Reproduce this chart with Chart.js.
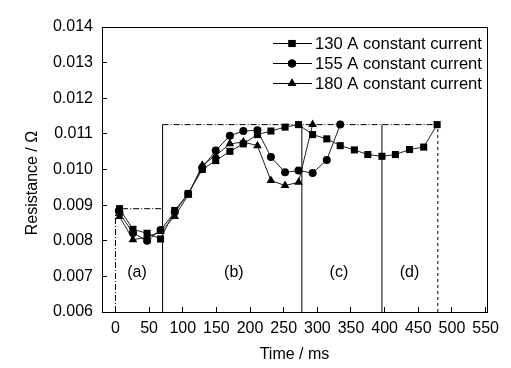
<!DOCTYPE html>
<html>
<head>
<meta charset="utf-8">
<script src="https://cdn.jsdelivr.net/npm/chart.js@4.4.0/dist/chart.umd.min.js"></script>
<style>
  html, body { margin: 0; padding: 0; background: #fff; }
  #chart { display: block; }
</style>
</head>
<body>
<canvas id="chart" width="511" height="368"></canvas>
<script>
// Resistance vs time at three constant currents
const times = [6, 26, 47, 67, 88, 108, 129, 149, 170, 190, 211, 231, 252, 272, 293, 314, 334, 355, 375, 396, 416, 437, 458, 478];
const r130 = [0.0089, 0.00832, 0.00821, 0.00805, 0.00885, 0.00932, 0.0100, 0.01025, 0.01051, 0.01072, 0.01098, 0.01108,
              0.01119, 0.01126, 0.01098, 0.01086, 0.01067, 0.01055, 0.01042, 0.01037, 0.01042, 0.01056, 0.01063, 0.01126];
const r155 = [0.00878, 0.00822, 0.0080, 0.0083, 0.0088, 0.00932, 0.01005, 0.01053, 0.01095, 0.01108, 0.0111, 0.01035,
              0.00992, 0.00997, 0.0099, 0.01027, 0.01126];
const r180 = [0.00868, 0.00803, 0.0081, 0.00826, 0.00868, 0.00928, 0.01012, 0.01039, 0.01072, 0.01077, 0.01067, 0.00969,
              0.00955, 0.00964, 0.01126];
const seriesLabels = ['130 A constant current', '155 A constant current', '180 A constant current'];
const seriesMarkers = ['rect', 'circle', 'triangle'];

const xTicks = [0, 50, 100, 150, 200, 250, 300, 350, 400, 450, 500, 550];
const yTicks = [0.006, 0.007, 0.008, 0.009, 0.010, 0.011, 0.012, 0.013, 0.014];

// stage boundaries (ms) and levels (ohm)
const stageEdges = [0, 70, 277, 396, 479];
const stageLevels = [0.0089, 0.01126];
const stageNames = ['(a)', '(b)', '(c)', '(d)'];
const stageLabelX = [32, 176, 332, 437];
const stageLabelY = 0.00711;

const FONT = 'Arial, "Liberation Sans", sans-serif';
const yMin = yTicks[0];

function toPoints(values) {
  return values.map((v, i) => ({ x: times[i], y: v }));
}

function refLine(points, dash) {
  return {
    data: points,
    borderColor: '#000',
    borderWidth: 1,
    borderDash: dash,
    pointRadius: 0,
    fill: false,
    tension: 0,
    isRef: true
  };
}

const seriesData = [r130, r155, r180];
const datasets = seriesData.map((vals, i) => ({
  label: seriesLabels[i],
  data: toPoints(vals),
  borderColor: '#222',
  borderWidth: 1,
  pointStyle: seriesMarkers[i],
  pointRadius: seriesMarkers[i] === 'circle' ? 4 : 5,
  pointBackgroundColor: '#000',
  pointBorderColor: '#000',
  pointBorderWidth: 0,
  tension: 0,
  fill: false
}));

const dashDot = [6, 2, 1, 2];
// stage (a) box
datasets.push(refLine([
  { x: stageEdges[0], y: yMin },
  { x: stageEdges[0], y: stageLevels[0] },
  { x: stageEdges[1], y: stageLevels[0] }
], dashDot));
// top dash-dot line of stages (b)-(d)
datasets.push(refLine([
  { x: stageEdges[1], y: stageLevels[1] },
  { x: stageEdges[4], y: stageLevels[1] }
], dashDot));
// solid boundaries
[stageEdges[1], stageEdges[2], stageEdges[3]].forEach(t => {
  datasets.push(refLine([{ x: t, y: yMin }, { x: t, y: stageLevels[1] }], []));
});
// dashed end boundary
datasets.push(refLine([{ x: stageEdges[4], y: yMin }, { x: stageEdges[4], y: stageLevels[1] }], [3, 3]));

const framePlugin = {
  id: 'frame',
  afterDraw(chart) {
    const { ctx, chartArea: a, scales } = chart;
    ctx.save();
    ctx.strokeStyle = '#000';
    ctx.lineWidth = 1;
    ctx.strokeRect(Math.round(a.left) + 0.5, Math.round(a.top) + 0.5,
                   Math.round(a.right - a.left), Math.round(a.bottom - a.top));

    // stage labels
    ctx.fillStyle = '#000';
    ctx.font = '16px ' + FONT;
    ctx.textAlign = 'center';
    ctx.textBaseline = 'middle';
    stageNames.forEach((name, i) => {
      ctx.fillText(name, scales.x.getPixelForValue(stageLabelX[i]), scales.y.getPixelForValue(stageLabelY));
    });

    // axis titles
    ctx.fillText('Time / ms', (a.left + a.right) / 2, 355);
    ctx.save();
    ctx.translate(33, 183);
    ctx.rotate(-Math.PI / 2);
    ctx.fillText('Resistance / \u03A9', 0, 0);
    ctx.restore();

    // legend: line with marker
    ctx.font = '16.6px ' + FONT;
    chart.data.datasets.forEach((ds, i) => {
      if (ds.isRef) return;
      const y = 43 + i * 20;
      ctx.beginPath();
      ctx.strokeStyle = '#000';
      ctx.moveTo(273, y + 0.5);
      ctx.lineTo(312, y + 0.5);
      ctx.stroke();
      ctx.fillStyle = '#000';
      Chart.helpers.drawPoint(ctx, { pointStyle: ds.pointStyle, radius: ds.pointRadius, rotation: 0, borderWidth: 0 }, 292, y + 0.5);
      ctx.fill();
      ctx.textAlign = 'left';
      ctx.fillText(ds.label, 315, y + 1);
    });
    ctx.restore();
  }
};

new Chart(document.getElementById('chart').getContext('2d'), {
  type: 'line',
  data: { datasets: datasets },
  options: {
    responsive: false,
    animation: false,
    events: [],
    layout: { padding: { left: 0, right: 20, top: 27, bottom: 0 } },
    plugins: {
      legend: { display: false },
      tooltip: { enabled: false }
    },
    scales: {
      x: {
        type: 'linear',
        min: -20,
        max: 552,
        afterBuildTicks: scale => { scale.ticks = xTicks.map(v => ({ value: v })); },
        afterFit: scale => { scale.height = 56; },
        grid: { drawOnChartArea: false, drawTicks: true, tickLength: -5, color: '#000' },
        border: { color: '#000', width: 1 },
        ticks: { color: '#000', padding: 12, maxRotation: 0, font: { family: FONT, size: 16 } }
      },
      y: {
        type: 'linear',
        min: yTicks[0],
        max: yTicks[yTicks.length - 1],
        afterBuildTicks: scale => { scale.ticks = yTicks.map(v => ({ value: v })); },
        afterFit: scale => { scale.width = 102; },
        grid: { drawOnChartArea: false, drawTicks: true, tickLength: -5, color: '#000' },
        border: { color: '#000', width: 1 },
        ticks: {
          color: '#000',
          padding: 14,
          font: { family: FONT, size: 16 },
          callback: v => v.toFixed(3)
        }
      }
    }
  },
  plugins: [framePlugin]
});
</script>
</body>
</html>
